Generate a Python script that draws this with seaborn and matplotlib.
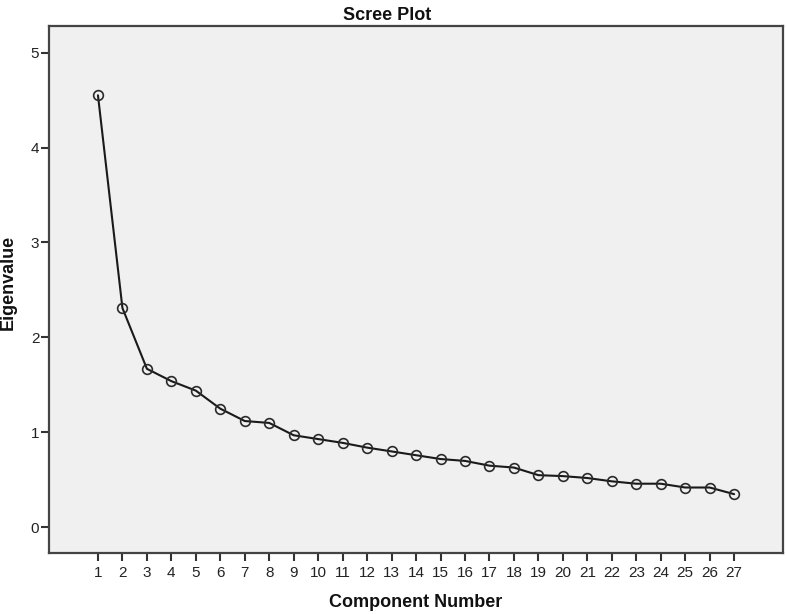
import pandas as pd
import matplotlib
matplotlib.use("Agg")
import matplotlib.pyplot as plt
import seaborn as sns

# Scree plot values
components = list(range(1, 28))
eigenvalues = [4.55, 2.31, 1.67, 1.54, 1.44, 1.25, 1.12, 1.10, 0.97, 0.93,
               0.89, 0.84, 0.80, 0.76, 0.72, 0.70, 0.65, 0.63, 0.55, 0.54,
               0.52, 0.485, 0.46, 0.46, 0.42, 0.42, 0.35]
y_ticks = [0, 1, 2, 3, 4, 5]

df = pd.DataFrame({"Component Number": components, "Eigenvalue": eigenvalues})

sns.set_theme(style="white")
plt.rcParams["font.family"] = ["Liberation Sans", "DejaVu Sans"]

fig = plt.figure(figsize=(7.87, 6.14), dpi=100)
ax = fig.add_axes([0.0623, 0.0993, 0.9327, 0.8584])
ax.set_facecolor("#f0f0f0")

sns.lineplot(data=df, x="Component Number", y="Eigenvalue", ax=ax,
             color="#1a1a1a", linewidth=1.5, marker="o", markersize=7,
             markerfacecolor="none", markeredgecolor="#2a2a2a",
             markeredgewidth=1.2)

ax.set_xlim(-1, 29)
ax.set_ylim(-0.27, 5.28)
ax.set_xticks(components)
ax.set_yticks(y_ticks)
ax.tick_params(axis="both", which="major", length=6, width=1.5,
               color="#333333", labelsize=11, labelcolor="#222222",
               direction="out", bottom=True, left=True)
ax.tick_params(axis="x", pad=3)
ax.tick_params(axis="y", pad=1)

for s in ax.spines.values():
    s.set_color("#444444")
    s.set_linewidth(1.6)

ax.set_xlabel("")
ax.set_ylabel("")
fig.text(0.492, 0.975, "Scree Plot", ha="center", va="center",
         fontsize=13, fontweight="bold", color="#111111")
fig.text(0.528, 0.018, "Component Number", ha="center", va="center",
         fontsize=13, fontweight="bold", color="#111111")
fig.text(0.011, 0.54, "Eigenvalue", ha="center", va="center", rotation=90,
         fontsize=13, fontweight="bold", color="#111111")

fig.savefig("out.png", dpi=100)
